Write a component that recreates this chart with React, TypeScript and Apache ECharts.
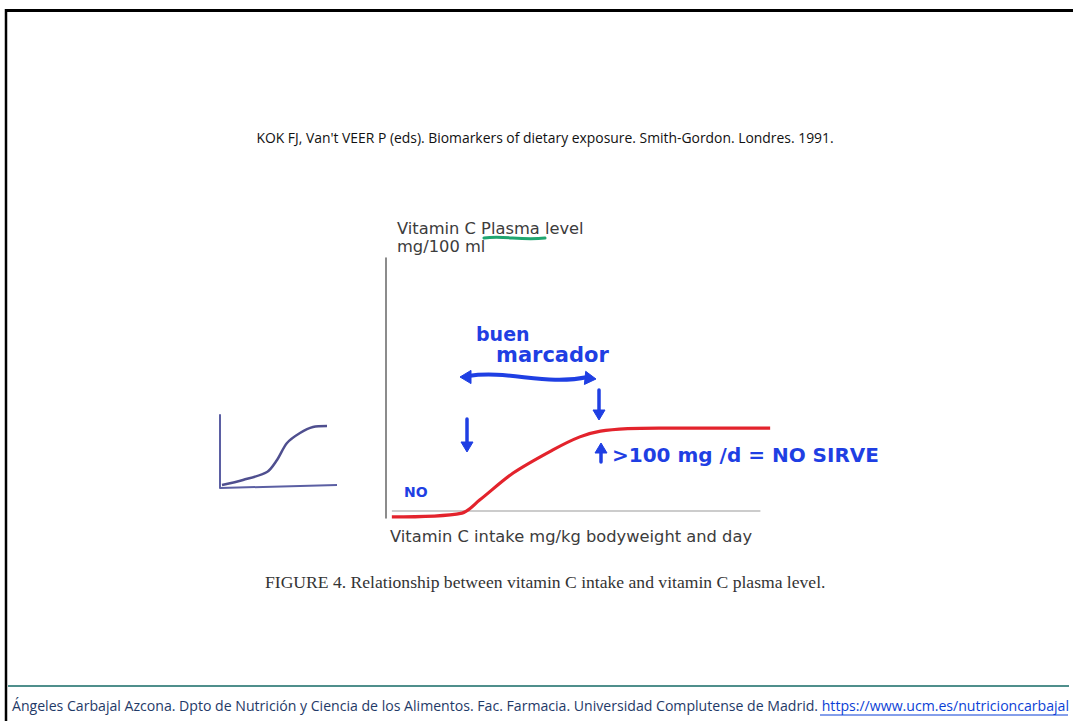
import React, { useEffect, useRef } from "react";
import * as echarts from "echarts";

// Main curve: vitamin C intake (x) vs plasma level (y), arbitrary units
const curveX = [1.5, 19.5, 24, 32.6, 42.8, 49.7, 55, 62, 70, 98.5];
const curveY = [0.4, 1.9, 6.9, 17.3, 26.2, 31.2, 33.4, 34.4, 34.6, 34.6];
// Baseline (x axis) of the main figure
const baseX = [1.5, 96];
const baseY = [2.7, 2.7];
// Inset sketch curve
const insetX = [2, 23, 47, 57, 67, 80, 93, 107];
const insetY = [3, 8, 16, 28, 45, 55, 61, 62];
const insetBaseX = [0, 117];
const insetBaseY = [0, 3];

const citation = "KOK FJ, Van't VEER P (eds). Biomarkers of dietary exposure. Smith-Gordon. Londres. 1991.";
const yTitle1 = "Vitamin C Plasma level";
const yTitle2 = "mg/100 ml";
const xTitle = "Vitamin C intake mg/kg bodyweight and day";
const figCaption = "FIGURE 4. Relationship between vitamin C intake and vitamin C plasma level.";
const footerText = "Ángeles Carbajal Azcona. Dpto de Nutrición y Ciencia de los Alimentos. Fac. Farmacia. Universidad Complutense de Madrid. ";
const footerLink = "https://www.ucm.es/nutricioncarbajal";

const BLUE = "#1f3fe3";

function arrowHead(tipX: number, tipY: number, angle: number, size: number, color: string) {
  const back = size;
  const half = size * 0.6;
  const bx = tipX - Math.cos(angle) * back;
  const by = tipY - Math.sin(angle) * back;
  const px = -Math.sin(angle) * half;
  const py = Math.cos(angle) * half;
  return {
    type: "polygon",
    shape: { points: [[tipX, tipY], [bx + px, by + py], [bx - px, by - py]] },
    style: { fill: color, stroke: color, lineWidth: 1, lineJoin: "round" },
    silent: true,
  };
}

function vArrow(x: number, y1: number, y2: number) {
  const down = y2 > y1;
  const ang = down ? Math.PI / 2 : -Math.PI / 2;
  return [
    {
      type: "line",
      shape: { x1: x, y1, x2: x, y2: down ? y2 - 6 : y2 + 6 },
      style: { stroke: BLUE, lineWidth: 3.5, lineCap: "round" },
      silent: true,
    },
    arrowHead(x, y2, ang, 10, BLUE),
  ];
}

export default function App() {
  const ref = useRef<HTMLDivElement>(null);
  useEffect(() => {
    if (!ref.current) return;
    const chart = echarts.init(ref.current, null, { renderer: "svg" });
    const txt = (text: string, x: number, y: number, font: string, fill: string, align = "left") => ({
      type: "text",
      x,
      y,
      silent: true,
      style: { text, font, fill, textAlign: align, textVerticalAlign: "middle" },
    });
    const graphic: any[] = [
      // slide frame
      { type: "line", shape: { x1: 5, y1: 10.5, x2: 1073, y2: 10.5 }, style: { stroke: "#000", lineWidth: 3 }, silent: true },
      { type: "line", shape: { x1: 6, y1: 9, x2: 6, y2: 721 }, style: { stroke: "#000", lineWidth: 2.5 }, silent: true },
      // footer rule
      { type: "line", shape: { x1: 8, y1: 686, x2: 1069, y2: 686 }, style: { stroke: "#4f8f8c", lineWidth: 2 }, silent: true },
      txt(citation, 545, 137, "13.9px 'Open Sans', sans-serif", "#111", "center"),
      txt(yTitle1, 397, 228, "16.3px 'DejaVu Sans', sans-serif", "#3c3c3c"),
      txt(yTitle2, 397, 246, "16.3px 'DejaVu Sans', sans-serif", "#3c3c3c"),
      {
        type: "bezierCurve",
        shape: { x1: 484, y1: 238, x2: 545, y2: 238, cpx1: 505, cpy1: 235, cpx2: 520, cpy2: 241 },
        style: { stroke: "#1fa570", lineWidth: 3, fill: "none", lineCap: "round" },
        silent: true,
      },
      txt(xTitle, 390, 536, "16.3px 'DejaVu Sans', sans-serif", "#3c3c3c"),
      txt(figCaption, 265, 582, "17.6px 'Liberation Serif', 'Times New Roman', serif", "#333"),
      // handwritten annotations
      txt("buen", 476, 334, "bold 19px 'DejaVu Sans', sans-serif", BLUE),
      txt("marcador", 496, 355, "bold 21px 'DejaVu Sans', sans-serif", BLUE),
      {
        type: "bezierCurve",
        shape: { x1: 468, y1: 376, x2: 588, y2: 377, cpx1: 510, cpy1: 370, cpx2: 545, cpy2: 386 },
        style: { stroke: BLUE, lineWidth: 4, fill: "none", lineCap: "round" },
        silent: true,
      },
      arrowHead(460, 377, Math.PI, 11, BLUE),
      arrowHead(596, 379, 0.1, 11, BLUE),
      ...vArrow(599, 390, 420),
      ...vArrow(467, 419, 452),
      ...vArrow(601, 462, 443),
      txt(">100 mg /d = NO SIRVE", 612, 455, "bold 20px 'DejaVu Sans', sans-serif", BLUE),
      txt("NO", 404, 492, "bold 14px 'DejaVu Sans', sans-serif", BLUE),
      // footer
      {
        type: "text",
        x: 12,
        y: 705,
        silent: true,
        style: {
          text: `{a|${footerText}}{b|${footerLink}}`,
          textVerticalAlign: "middle",
          rich: {
            a: { font: "14.1px 'Open Sans', sans-serif", fill: "#1f3a68" },
            b: { font: "14.1px 'Open Sans', sans-serif", fill: "#0b3fd6" },
          },
        },
      },
      { type: "line", shape: { x1: 820, y1: 715, x2: 1068, y2: 715 }, style: { stroke: "#0b3fd6", lineWidth: 1 }, silent: true },
    ];

    chart.setOption({
      animation: false,
      backgroundColor: "#ffffff",
      grid: [
        { left: 386, top: 258, width: 390, height: 260 },
        { left: 220, top: 415, width: 120, height: 73 },
      ],
      xAxis: [
        { type: "value", gridIndex: 0, min: 0, max: 100, show: false },
        { type: "value", gridIndex: 1, min: 0, max: 120, show: false },
      ],
      yAxis: [
        {
          type: "value",
          gridIndex: 0,
          min: 0,
          max: 100,
          axisLine: { show: true, onZero: false, lineStyle: { color: "#666", width: 1.5 } },
          axisTick: { show: false },
          axisLabel: { show: false },
          splitLine: { show: false },
        },
        {
          type: "value",
          gridIndex: 1,
          min: 0,
          max: 73,
          axisLine: { show: true, onZero: false, lineStyle: { color: "#5b5fa3", width: 2 } },
          axisTick: { show: false },
          axisLabel: { show: false },
          splitLine: { show: false },
        },
      ],
      series: [
        {
          type: "line",
          xAxisIndex: 0,
          yAxisIndex: 0,
          data: baseX.map((x, i) => [x, baseY[i]]),
          symbol: "none",
          lineStyle: { color: "#9a9a9a", width: 1.2 },
          silent: true,
        },
        {
          type: "line",
          xAxisIndex: 0,
          yAxisIndex: 0,
          data: curveX.map((x, i) => [x, curveY[i]]),
          symbol: "none",
          smooth: 0.3,
          lineStyle: { color: "#e3232c", width: 3.2 },
          silent: true,
        },
        {
          type: "line",
          xAxisIndex: 1,
          yAxisIndex: 1,
          data: insetBaseX.map((x, i) => [x, insetBaseY[i]]),
          symbol: "none",
          lineStyle: { color: "#5b5fa3", width: 2 },
          silent: true,
        },
        {
          type: "line",
          xAxisIndex: 1,
          yAxisIndex: 1,
          data: insetX.map((x, i) => [x, insetY[i]]),
          symbol: "none",
          smooth: 0.3,
          lineStyle: { color: "#4f4f8f", width: 2.5 },
          silent: true,
        },
      ],
      graphic,
    });
    return () => chart.dispose();
  }, []);
  return <div ref={ref} style={{ position: "absolute", left: 0, top: 0, width: 1073, height: 721 }} />;
}
